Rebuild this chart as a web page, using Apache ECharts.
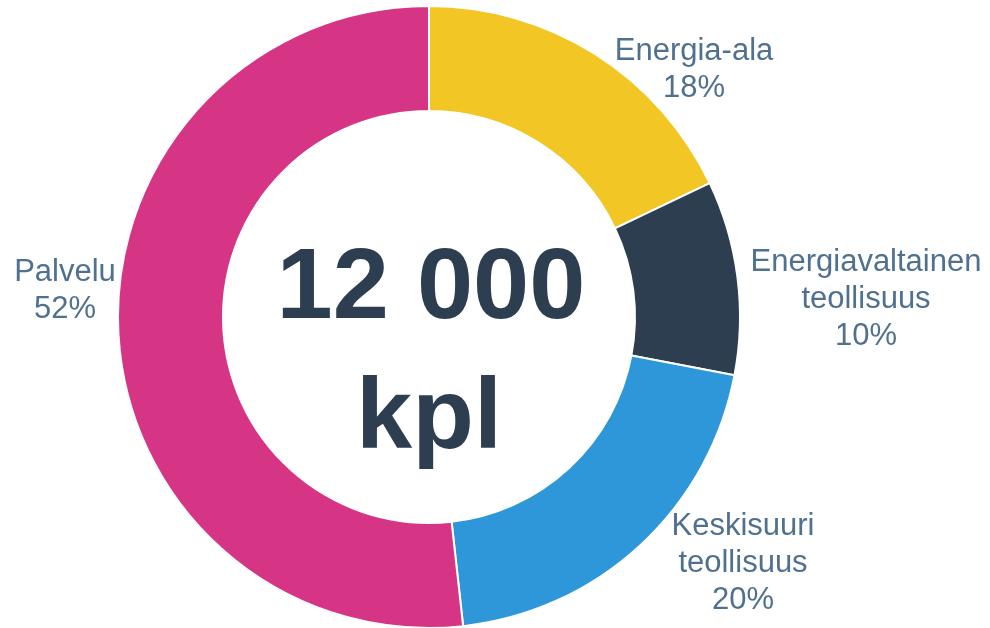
<!DOCTYPE html>
<html>
<head>
<meta charset="utf-8">
<script src="https://cdn.jsdelivr.net/npm/echarts@6/dist/echarts.min.js"></script>
<style>
html,body{margin:0;padding:0;background:#fff;}
#chart{width:990px;height:628px;}
</style>
</head>
<body>
<div id="chart"></div>
<script>
var categories = ['Energia-ala', 'Energiavaltainen\nteollisuus', 'Keskisuuri\nteollisuus', 'Palvelu'];
var values = [2150, 1210, 2430, 6210];
var colors = ['#F2C624', '#2C3E50', '#2E97DA', '#D63585'];
var centerTitle = '12 000';
var centerUnit = 'kpl';

var labelPos = [[694, 70], [866, 299], [743, 563], [65, 291]];

var chart = echarts.init(document.getElementById('chart'));
chart.setOption({
  animation: false,
  backgroundColor: '#ffffff',
  series: [{
    type: 'pie',
    center: [429, 317],
    radius: [206, 311],
    startAngle: 90,
    clockwise: true,
    percentPrecision: 0,
    data: categories.map(function (c, i) {
      return { name: c, value: values[i], itemStyle: { color: colors[i] } };
    }),
    itemStyle: { borderColor: '#ffffff', borderWidth: 2 },
    label: {
      show: true,
      position: 'outside',
      formatter: '{b}\n{d}%',
      color: '#50708F',
      fontFamily: 'Liberation Sans, Arial, sans-serif',
      fontSize: 31,
      lineHeight: 37,
      align: 'center',
      overflow: 'none',
      width: 300
    },
    labelLine: { show: false },
    labelLayout: function (p) {
      var pos = labelPos[p.dataIndex];
      return { x: pos[0], y: pos[1], align: 'center', verticalAlign: 'middle' };
    }
  }],
  graphic: [{
    type: 'text',
    x: 431, y: 290,
    style: {
      text: centerTitle,
      fill: '#2C3E50',
      font: 'bold 101px "Liberation Sans", Arial, sans-serif',
      textAlign: 'center',
      textVerticalAlign: 'middle'
    }
  }, {
    type: 'text',
    x: 429, y: 420,
    style: {
      text: centerUnit,
      fill: '#2C3E50',
      font: 'bold 101px "Liberation Sans", Arial, sans-serif',
      textAlign: 'center',
      textVerticalAlign: 'middle'
    }
  }]
});
</script>
</body>
</html>
